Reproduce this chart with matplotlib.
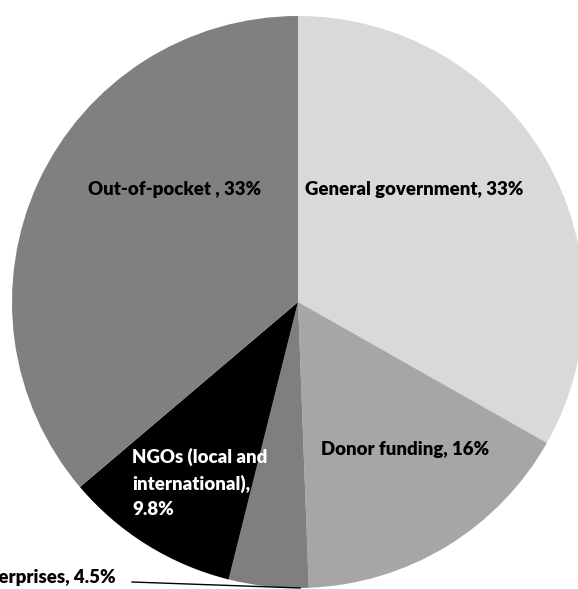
import matplotlib
matplotlib.use("Agg")
import matplotlib.pyplot as plt

categories = ["General government", "Donor funding", "Enterprises", "NGOs (local and\ninternational),\n", "Out-of-pocket "]
values = [33.2, 16.2, 4.5, 9.9, 36.2]
value_labels = ["33%", "16%", "4.5%", "9.8%", "33%"]
colors = ["#d9d9d9", "#a6a6a6", "#7f7f7f", "#000000", "#808080"]

W, H = 578, 589
fig = plt.figure(figsize=(W / 100, H / 100), dpi=100)
ax = fig.add_axes([0, 0, 1, 1])

cx, cy, r = 298, H - 302, 286
ax.pie(values, colors=colors, startangle=90, counterclock=False,
       center=(cx, cy), radius=r, frame=True,
       wedgeprops=dict(linewidth=0))
ax.set_xlim(0, W)
ax.set_ylim(0, H)
ax.set_aspect("auto")
ax.axis("off")

font = dict(family=["Lato", "DejaVu Sans"], fontweight="heavy", fontsize=13.4)

def y(py):
    return H - py

ax.text(414, y(190), f"{categories[0]}, {value_labels[0]}", ha="center", va="center", color="black", **font)
ax.text(405, y(450), f"{categories[1]}, {value_labels[1]}", ha="center", va="center", color="black", **font)
ax.text(175, y(190), f"{categories[4]}, {value_labels[4]}", ha="center", va="center", color="black", **font)
ax.text(132, y(483), f"{categories[3]}{value_labels[3]}", ha="left", va="center", color="white",
        linespacing=1.6, **font)
ax.text(116, y(577), f"{categories[2]}, {value_labels[2]}", ha="right", va="center", color="black", **font)
ax.plot([132, 300], [y(582), y(588)], color="black", linewidth=1)

fig.savefig("out.png", dpi=100)
